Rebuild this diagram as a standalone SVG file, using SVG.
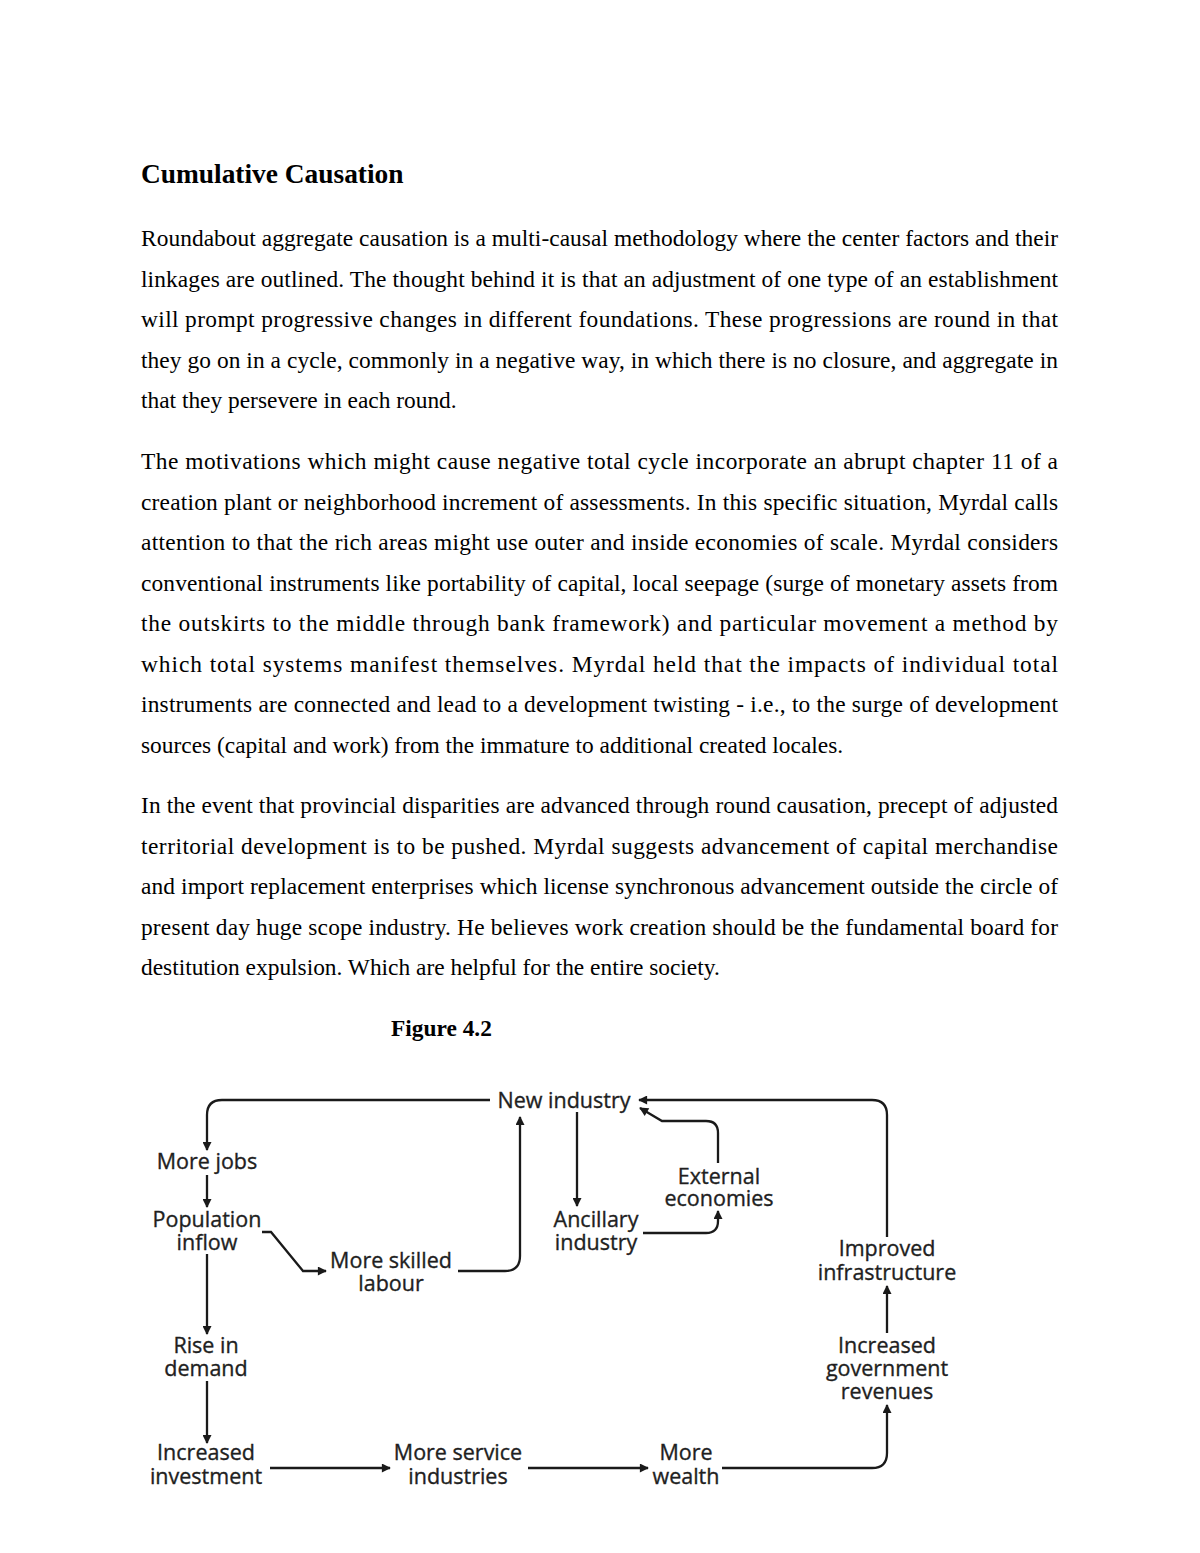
<svg xmlns="http://www.w3.org/2000/svg" width="1200" height="1553" viewBox="0 0 1200 1553">
<defs>
<marker id="ah" viewBox="0 0 10 10" refX="9" refY="5" markerWidth="10" markerHeight="9" markerUnits="userSpaceOnUse" orient="auto">
<path d="M0,0 L10,5 L0,10 Z" fill="#1a1a1a"/>
</marker>
</defs>
<style>
.title{font-family:"Liberation Serif","Times New Roman",serif;font-weight:bold;font-size:27.4px;fill:#000}
.body{font-family:"Liberation Serif","Times New Roman",serif;font-size:23.4px;fill:#000}
.fig{font-family:"Liberation Serif","Times New Roman",serif;font-weight:bold;font-size:23.4px;fill:#000}
.lbl{font-family:"Open Sans","Noto Sans","DejaVu Sans",sans-serif;font-size:21.5px;fill:#1f1f1f;text-anchor:middle;stroke:#1f1f1f;stroke-width:0.35}
.cn path{fill:none;stroke:#1a1a1a;stroke-width:2.3;marker-end:url(#ah)}
</style>
<rect width="1200" height="1553" fill="#fff"/>
<g id="text-body">
<text class="title" x="141" y="183">Cumulative Causation</text>
<text class="body" x="141" y="246" textLength="917" lengthAdjust="spacing">Roundabout aggregate causation is a multi-causal methodology where the center factors and their</text>
<text class="body" x="141" y="286.5" textLength="917" lengthAdjust="spacing">linkages are outlined. The thought behind it is that an adjustment of one type of an establishment</text>
<text class="body" x="141" y="327" textLength="917" lengthAdjust="spacing">will prompt progressive changes in different foundations. These progressions are round in that</text>
<text class="body" x="141" y="367.5" textLength="917" lengthAdjust="spacing">they go on in a cycle, commonly in a negative way, in which there is no closure, and aggregate in</text>
<text class="body" x="141" y="408">that they persevere in each round.</text>
<text class="body" x="141" y="469" textLength="917" lengthAdjust="spacing">The motivations which might cause negative total cycle incorporate an abrupt chapter 11 of a</text>
<text class="body" x="141" y="509.5" textLength="917" lengthAdjust="spacing">creation plant or neighborhood increment of assessments. In this specific situation, Myrdal calls</text>
<text class="body" x="141" y="550" textLength="917" lengthAdjust="spacing">attention to that the rich areas might use outer and inside economies of scale. Myrdal considers</text>
<text class="body" x="141" y="590.5" textLength="917" lengthAdjust="spacing">conventional instruments like portability of capital, local seepage (surge of monetary assets from</text>
<text class="body" x="141" y="631" textLength="917" lengthAdjust="spacing">the outskirts to the middle through bank framework) and particular movement a method by</text>
<text class="body" x="141" y="671.5" textLength="917" lengthAdjust="spacing">which total systems manifest themselves. Myrdal held that the impacts of individual total</text>
<text class="body" x="141" y="712" textLength="917" lengthAdjust="spacing">instruments are connected and lead to a development twisting - i.e., to the surge of development</text>
<text class="body" x="141" y="752.5">sources (capital and work) from the immature to additional created locales.</text>
<text class="body" x="141" y="813" textLength="917" lengthAdjust="spacing">In the event that provincial disparities are advanced through round causation, precept of adjusted</text>
<text class="body" x="141" y="853.5" textLength="917" lengthAdjust="spacing">territorial development is to be pushed. Myrdal suggests advancement of capital merchandise</text>
<text class="body" x="141" y="894" textLength="917" lengthAdjust="spacing">and import replacement enterprises which license synchronous advancement outside the circle of</text>
<text class="body" x="141" y="934.5" textLength="917" lengthAdjust="spacing">present day huge scope industry. He believes work creation should be the fundamental board for</text>
<text class="body" x="141" y="975">destitution expulsion. Which are helpful for the entire society.</text>
<text class="fig" x="391" y="1036">Figure 4.2</text>
</g>
<g id="connectors" class="cn">
<path d="M490,1100 H222 Q207,1100 207,1115 V1150"/>
<path d="M207,1175 V1207"/>
<path d="M262,1232 H271 L303,1271 H326"/>
<path d="M458,1271 H505 Q520,1271 520,1256 V1117"/>
<path d="M207,1254 V1334"/>
<path d="M207,1381 V1443"/>
<path d="M270,1468 H390"/>
<path d="M528,1468 H648"/>
<path d="M722,1468 H872 Q887,1468 887,1453 V1405"/>
<path d="M887,1333 V1286"/>
<path d="M887,1237 V1115 Q887,1100 872,1100 H639"/>
<path d="M577,1112 V1206"/>
<path d="M643,1233 H706 Q718,1233 718,1221 V1211"/>
<path d="M718,1163 V1133 Q718,1121 706,1121 H662 L640,1108"/>
</g>
<g id="n-new-industry"><text class="lbl" x="564" y="1108">New industry</text></g>
<g id="n-more-jobs"><text class="lbl" x="207" y="1169">More jobs</text></g>
<g id="n-population"><text class="lbl" x="207" y="1227">Population<tspan x="207" dy="23">inflow</tspan></text></g>
<g id="n-skilled"><text class="lbl" x="391" y="1268">More skilled<tspan x="391" dy="23">labour</tspan></text></g>
<g id="n-ancillary"><text class="lbl" x="596" y="1227">Ancillary<tspan x="596" dy="23">industry</tspan></text></g>
<g id="n-external"><text class="lbl" x="719" y="1184">External<tspan x="719" dy="22">economies</tspan></text></g>
<g id="n-infra"><text class="lbl" x="887" y="1256">Improved<tspan x="887" dy="24">infrastructure</tspan></text></g>
<g id="n-gov"><text class="lbl" x="887" y="1353">Increased<tspan x="887" dy="23">government</tspan><tspan x="887" dy="23">revenues</tspan></text></g>
<g id="n-demand"><text class="lbl" x="206" y="1353">Rise in<tspan x="206" dy="23">demand</tspan></text></g>
<g id="n-investment"><text class="lbl" x="206" y="1460">Increased<tspan x="206" dy="24">investment</tspan></text></g>
<g id="n-service"><text class="lbl" x="458" y="1460">More service<tspan x="458" dy="24">industries</tspan></text></g>
<g id="n-wealth"><text class="lbl" x="686" y="1460">More<tspan x="686" dy="24">wealth</tspan></text></g>
</svg>
